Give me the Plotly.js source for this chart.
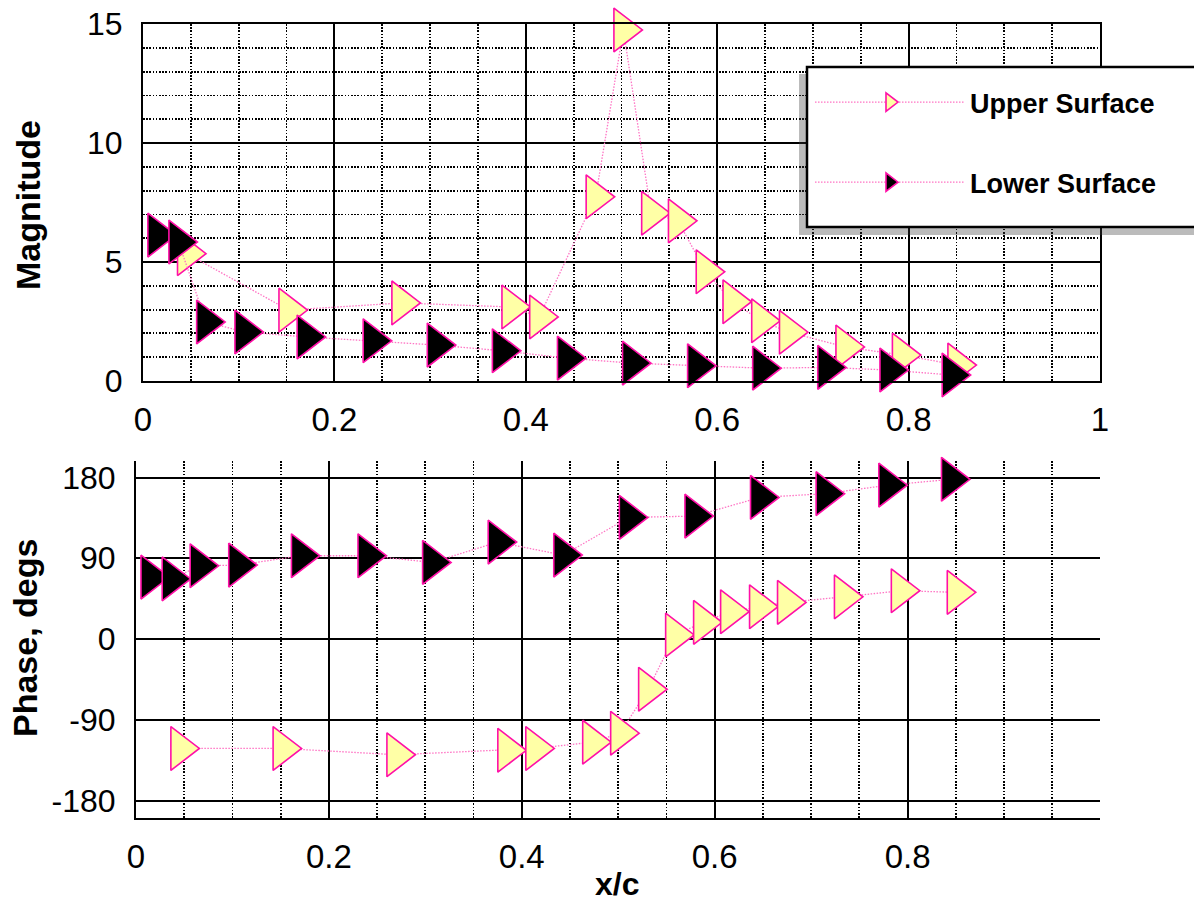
<!DOCTYPE html>
<html>
<head>
<meta charset="utf-8">
<script src="https://cdn.plot.ly/plotly-3.0.1.min.js"></script>
<style>
  html, body { margin: 0; padding: 0; background: #ffffff; }
  #chart { width: 1194px; height: 905px; }
</style>
</head>
<body>
<div id="chart"></div>
<script>
// ---- data ----
const upperX = [0.046, 0.152, 0.270, 0.385, 0.414, 0.473, 0.502, 0.531, 0.559, 0.588, 0.616, 0.646, 0.675, 0.734, 0.793, 0.851];
const upperMag = [5.35, 2.98, 3.28, 3.11, 2.69, 7.74, 14.75, 7.05, 6.73, 4.59, 3.33, 2.53, 2.05, 1.43, 1.09, 0.67];
const upperPhase = [-122, -122, -129, -124, -122, -115, -105, -56, 4.5, 18.6, 30.4, 36, 40.8, 47, 53.8, 52];

const lowerX = [0.015, 0.037, 0.066, 0.106, 0.171, 0.240, 0.307, 0.375, 0.443, 0.511, 0.579, 0.647, 0.715, 0.780, 0.845];
const lowerMag = [6.13, 5.84, 2.48, 2.06, 1.85, 1.69, 1.51, 1.27, 0.96, 0.75, 0.64, 0.54, 0.57, 0.46, 0.25];
const lowerPhase = [69, 67, 81.6, 82.4, 92.8, 92.8, 85.4, 108, 93.5, 135.5, 137, 157.8, 162, 171.5, 178];

const seriesNames = ['Upper Surface', 'Lower Surface'];
const xTickVals = [0, 0.2, 0.4, 0.6, 0.8];
const xTickText = ['0', '0.2', '0.4', '0.6', '0.8'];
const phaseTickVals = [-180, -90, 0, 90, 180];
const phaseTickText = ['-180', '-90', '0', '90', '180'];

// ---- styling ----
const W = 1194, H = 905;
const fx = p => p / W;
const fy = p => 1 - p / H;
const FONT = 'Liberation Sans, Arial, Helvetica, sans-serif';
const PINK_LINE = '#ff74c4';
const PINK_EDGE = '#ff10a8';
const YELLOW = '#ffffa6';
const MSIZE = 38;

function trace(x, y, xa, ya, fill, name, group, showleg) {
  return {
    type: 'scatter', mode: 'lines+markers',
    x: x, y: y, xaxis: xa, yaxis: ya,
    name: name, legendgroup: group, showlegend: showleg,
    cliponaxis: false,
    line: { color: PINK_LINE, width: 1.3, dash: '1.5px,1.5px' },
    marker: { symbol: 'triangle-right', size: MSIZE, color: fill,
              line: { color: PINK_EDGE, width: 1.6 } },
    hoverinfo: 'skip'
  };
}

const data = [
  trace(upperX, upperMag, 'x', 'y', YELLOW, seriesNames[0], 'u', true),
  trace(lowerX, lowerMag, 'x', 'y', '#000000', seriesNames[1], 'l', true),
  trace(upperX, upperPhase, 'x2', 'y2', YELLOW, seriesNames[0], 'u', false),
  trace(lowerX, lowerPhase, 'x2', 'y2', '#000000', seriesNames[1], 'l', false)
];

const majorGrid = { showgrid: true, gridcolor: '#000000', gridwidth: 2 };
const minorDots = (dt) => ({ dtick: dt, tick0: 0, showgrid: true, gridcolor: '#000000', gridwidth: 1.8, griddash: '1.6px,1.6px' });

const layout = {
  width: W, height: H,
  margin: { l: 0, r: 0, t: 0, b: 0 },
  paper_bgcolor: '#ffffff', plot_bgcolor: '#ffffff',
  font: { family: FONT, color: '#000000' },
  showlegend: true,
  xaxis: Object.assign({
    domain: [fx(143), fx(1100)], range: [0, 1], anchor: 'y',
    tickmode: 'linear', tick0: 0, dtick: 0.2,
    minor: minorDots(0.05),
    showline: true, linecolor: '#000000', linewidth: 2, mirror: true,
    zeroline: false, ticks: '', ticklabelstandoff: 8,
    tickfont: { size: 33, family: FONT }
  }, majorGrid),
  yaxis: Object.assign({
    domain: [fy(381), fy(24)], range: [0, 15], anchor: 'x',
    tickmode: 'linear', tick0: 0, dtick: 5,
    minor: minorDots(1),
    showline: true, linecolor: '#000000', linewidth: 2, mirror: true,
    zeroline: false, ticks: '', ticklabelstandoff: 12,
    tickfont: { size: 32, family: FONT }
  }, majorGrid),
  xaxis2: Object.assign({
    domain: [fx(136), fx(1100)], range: [0, 0.9995], anchor: 'y2',
    tickmode: 'array', tickvals: xTickVals, ticktext: xTickText,
    minor: minorDots(0.05),
    showline: true, linecolor: '#000000', linewidth: 2, mirror: false,
    zeroline: false, ticks: '', ticklabelstandoff: 8,
    tickfont: { size: 33, family: FONT }
  }, majorGrid),
  yaxis2: Object.assign({
    domain: [fy(818), fy(461)], range: [-199.5, 198.4], anchor: 'x2',
    tickmode: 'array', tickvals: phaseTickVals, ticktext: phaseTickText,
    showline: true, linecolor: '#000000', linewidth: 2, mirror: false,
    zeroline: false, ticks: '', ticklabelstandoff: 12,
    tickfont: { size: 32, family: FONT }
  }, majorGrid),
  legend: {
    x: fx(810), y: fy(78), xanchor: 'left', yanchor: 'top',
    bgcolor: 'rgba(0,0,0,0)', borderwidth: 0,
    font: { size: 27, family: FONT, weight: 700, color: '#000000' },
    traceorder: 'grouped', tracegroupgap: 42, itemwidth: 150,
    itemsizing: 'trace'
  },
  shapes: [
    { type: 'rect', xref: 'paper', yref: 'paper', layer: 'above',
      x0: fx(799), x1: fx(1210), y0: fy(235), y1: fy(74),
      fillcolor: 'rgba(60,60,60,0.35)', line: { width: 0 } },
    { type: 'rect', xref: 'paper', yref: 'paper', layer: 'above',
      x0: fx(807), x1: fx(1210), y0: fy(227), y1: fy(67),
      fillcolor: '#ffffff', line: { color: '#000000', width: 2.5 } }
  ],
  annotations: [
    { text: 'Magnitude', xref: 'paper', yref: 'paper', x: fx(28), y: fy(205),
      showarrow: false, textangle: -90, xanchor: 'center', yanchor: 'middle',
      font: { size: 34, family: FONT, weight: 700 } },
    { text: 'Phase, degs', xref: 'paper', yref: 'paper', x: fx(25), y: fy(638),
      showarrow: false, textangle: -90, xanchor: 'center', yanchor: 'middle',
      font: { size: 34, family: FONT, weight: 700 } },
    { text: 'x/c', xref: 'paper', yref: 'paper', x: fx(617), y: fy(884),
      showarrow: false, xanchor: 'center', yanchor: 'middle',
      font: { size: 32, family: FONT, weight: 700 } }
  ]
};

Plotly.newPlot('chart', data, layout, { staticPlot: true, displayModeBar: false });
</script>
</body>
</html>
